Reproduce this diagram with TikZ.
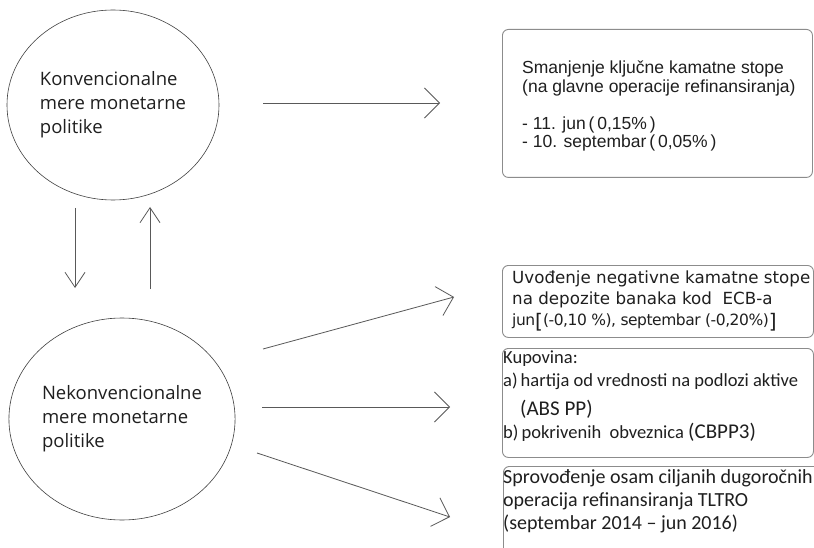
\documentclass[tikz,border=0pt]{standalone}
\usepackage{fontspec}
\setmainfont{Liberation Sans}
\newfontfamily\ovalfont{Open Sans}
\newfontfamily\verdfont{DejaVu Sans}
\newfontfamily\calfont{Carlito}
\usetikzlibrary{arrows.meta,shapes.geometric,positioning}

\begin{document}
\begin{tikzpicture} [x=1pt,y=-1pt,
 every node/.style={inner sep=0pt,text=black!88},
 oval/.style={ellipse,draw=black!75,line width=0.6pt,align=left,font=\ovalfont\fontsize{18.5}{24}\selectfont},
 frame/.style={rectangle,rounded corners=6pt,draw=black!45,line width=0.9pt,anchor=north west},
 txt/.style={anchor=north west,align=left},
 link/.style={draw=black!65,line width=0.8pt,-{Straight Barb[length=15pt,width=30pt]}},
 vlink/.style={link,-{Straight Barb[length=15pt,width=20pt]}},
]
    \clip (0,0) rectangle (814,548);
    \fill[white] (0,0) rectangle (814,548);
    % the two kinds of measures
    \node[oval,minimum width=212pt,minimum height=190pt] (konv) at (113,105) {Konvencionalne\\mere monetarne\\politike};
    \node[oval,minimum width=224pt,minimum height=202pt] (nekonv) at (122,419) {Nekonvencionalne\\mere monetarne\\politike};
    % boxes on the right
    \node[frame,minimum width=310pt,minimum height=148pt] (cut) at (502,29) {};
    \node[frame,minimum width=311pt,minimum height=72pt] (negrate) at (502,265) {};
    \node[frame,minimum width=311pt,minimum height=109pt] (buy) at (502,348) {};
    \node[frame,minimum width=330pt,minimum height=110pt] (tltro) at (503,466) {};
    \node[txt,font=\fontsize{17.5}{18.5}\selectfont] (cuttext) at (522,61)
      {Smanjenje ključne kamatne stope\\(na glavne operacije refinansiranja)\\[18.5pt]- 11. jun\,(\,0,15\%\,)\\- 10. septembar\,(\,0,05\%\,)};
    \node[txt,font=\verdfont\fontsize{16.7}{21}\selectfont] (negtext) at (512,271)
      {Uvođenje negativne kamatne stope\\na depozite banaka kod\ \ ECB-a\\{\fontsize{15.5}{21}\selectfont\addfontfeature{LetterSpace=-3}jun\raisebox{-3pt}{\fontsize{20}{21}\selectfont[}(-0,10 \%), septembar (-0,20\%)\raisebox{-3pt}{\fontsize{20}{21}\selectfont]}}};
    \node[txt,font=\calfont\fontsize{18.5}{23}\selectfont] (buytext) at (503,351)
      {Kupovina:\\a)\,hartija od vrednosti na podlozi aktive\\[6pt]\hspace*{17pt}{\fontsize{21}{23}\selectfont(ABS PP)}\\b)\,pokrivenih\ \ obveznica {\fontsize{21}{23}\selectfont(CBPP3)}};
    \node[txt,font=\calfont\fontsize{20}{23}\selectfont] (tltrotext) at (503,469)
      {Sprovođenje osam ciljanih dugoročnih\\operacija refinansiranja TLTRO\\(septembar 2014 – jun 2016)};
    % arrow ends
    \coordinate (konv-out) at (263,103);
    \coordinate (cut-in) at (440,103);
    \coordinate (konv-down) at (75,208);
    \coordinate (nekonv-top) at (75,288);
    \coordinate (nekonv-up) at (150,289);
    \coordinate (konv-bottom) at (150,207);
    \coordinate (neg-out) at (263,349);
    \coordinate (negrate-in) at (454,297);
    \coordinate (buy-out) at (262,407);
    \coordinate (buy-in) at (450,407);
    \coordinate (tltro-out) at (257,453);
    \coordinate (tltro-in) at (450,517);
    \draw[link] (konv-out) -- (cut-in);
    \draw[vlink] (konv-down) -- (nekonv-top);
    \draw[vlink] (nekonv-up) -- (konv-bottom);
    \draw[link] (neg-out) -- (negrate-in);
    \draw[link] (buy-out) -- (buy-in);
    \draw[link] (tltro-out) -- (tltro-in);
\end{tikzpicture}
\end{document}
